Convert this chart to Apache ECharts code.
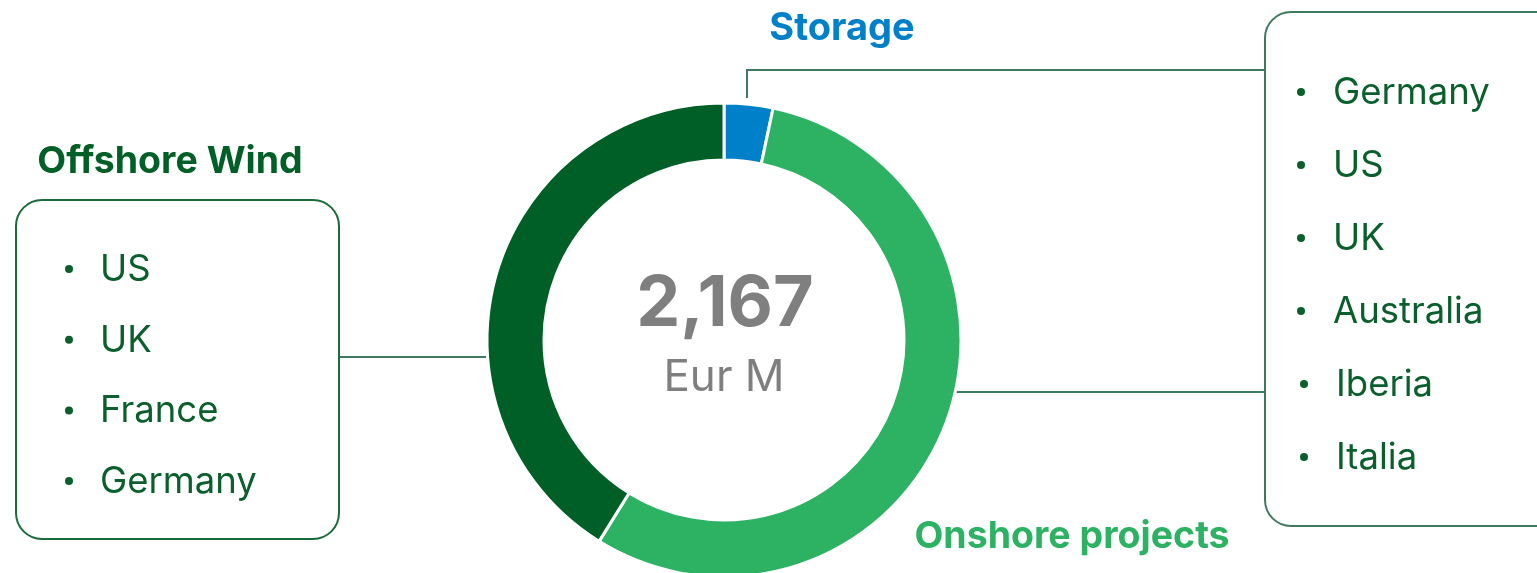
<!DOCTYPE html>
<html>
<head>
<meta charset="utf-8">
<script src="https://cdn.jsdelivr.net/npm/echarts@6/dist/echarts.min.js"></script>
<style>
html,body{margin:0;padding:0;background:#fff;}
#chart{width:1537px;height:573px;}
</style>
</head>
<body>
<div id="chart"></div>
<script>
const categories = ["Storage", "Onshore projects", "Offshore Wind"];
const values = [72, 1203, 892];
const totalLabel = "2,167";
const unitLabel = "Eur M";
const offshoreCountries = ["US", "UK", "France", "Germany"];
const onshoreCountries = ["Germany", "US", "UK", "Australia", "Iberia", "Italia"];

const colors = ["#0080c8", "#2db264", "#005f27"];
const FONT = "Inter";
const listColor = "#0b5f2c";

const chart = echarts.init(document.getElementById('chart'));

const graphics = [];
// left box
graphics.push({type:'rect', shape:{x:16, y:200, width:323, height:339, r:26},
  style:{fill:'none', stroke:'#1a6b3a', lineWidth:2}});
// right box
graphics.push({type:'rect', shape:{x:1265, y:12, width:300, height:514, r:26},
  style:{fill:'none', stroke:'#3f7a60', lineWidth:2}});
// connectors
graphics.push({type:'polyline', shape:{points:[[340,357],[489,357]]}, style:{stroke:'#3f7a60', lineWidth:2, fill:'none'}});
graphics.push({type:'polyline', shape:{points:[[1265,70],[747,70],[747,98]]}, style:{stroke:'#3f7a60', lineWidth:2, fill:'none'}});
graphics.push({type:'polyline', shape:{points:[[1265,392],[955,392]]}, style:{stroke:'#3f7a60', lineWidth:2, fill:'none'}});

// headings
graphics.push({type:'text', style:{text:categories[0], x:842, y:29, align:'center', verticalAlign:'middle',
  font:'bold 38px ' + FONT, fill:colors[0]}});
graphics.push({type:'text', style:{text:categories[2], x:170, y:162, align:'center', verticalAlign:'middle',
  font:'bold 37.5px ' + FONT, fill:colors[2]}});
graphics.push({type:'text', style:{text:categories[1], x:1072, y:537, align:'center', verticalAlign:'middle',
  font:'bold 37.5px ' + FONT, fill:colors[1]}});

// center
graphics.push({type:'text', style:{text:totalLabel, x:725, y:305, align:'center', verticalAlign:'middle',
  font:'bold 70px ' + FONT, fill:'#7f7f7f'}});
graphics.push({type:'text', style:{text:unitLabel, x:724, y:378, align:'center', verticalAlign:'middle',
  font:'44px ' + FONT, fill:'#7f7f7f'}});

// lists
offshoreCountries.forEach((c, i) => {
  const y = 270 + i * 70.7;
  graphics.push({type:'circle', shape:{cx:69, cy:y - 1, r:4}, style:{fill:listColor}});
  graphics.push({type:'text', style:{text:c, x:100, y:y, verticalAlign:'middle', font:'36.5px ' + FONT, fill:listColor}});
});
onshoreCountries.forEach((c, i) => {
  const y = 93 + i * 73;
  const dx = i >= 4 ? 3 : 0;
  graphics.push({type:'circle', shape:{cx:1301 + dx, cy:y - 1, r:4}, style:{fill:listColor}});
  graphics.push({type:'text', style:{text:c, x:1333 + dx, y:y, verticalAlign:'middle', font:'36.5px ' + FONT, fill:listColor}});
});

chart.setOption({
  animation:false,
  series:[{
    type:'pie',
    center:[724, 340],
    radius:[180, 237],
    startAngle:90,
    clockwise:true,
    label:{show:false},
    labelLine:{show:false},
    itemStyle:{borderColor:'#fff', borderWidth:3},
    data: categories.map((n, i) => ({name:n, value:values[i], itemStyle:{color:colors[i]}}))
  }],
  graphic: graphics
});
</script>
</body>
</html>
